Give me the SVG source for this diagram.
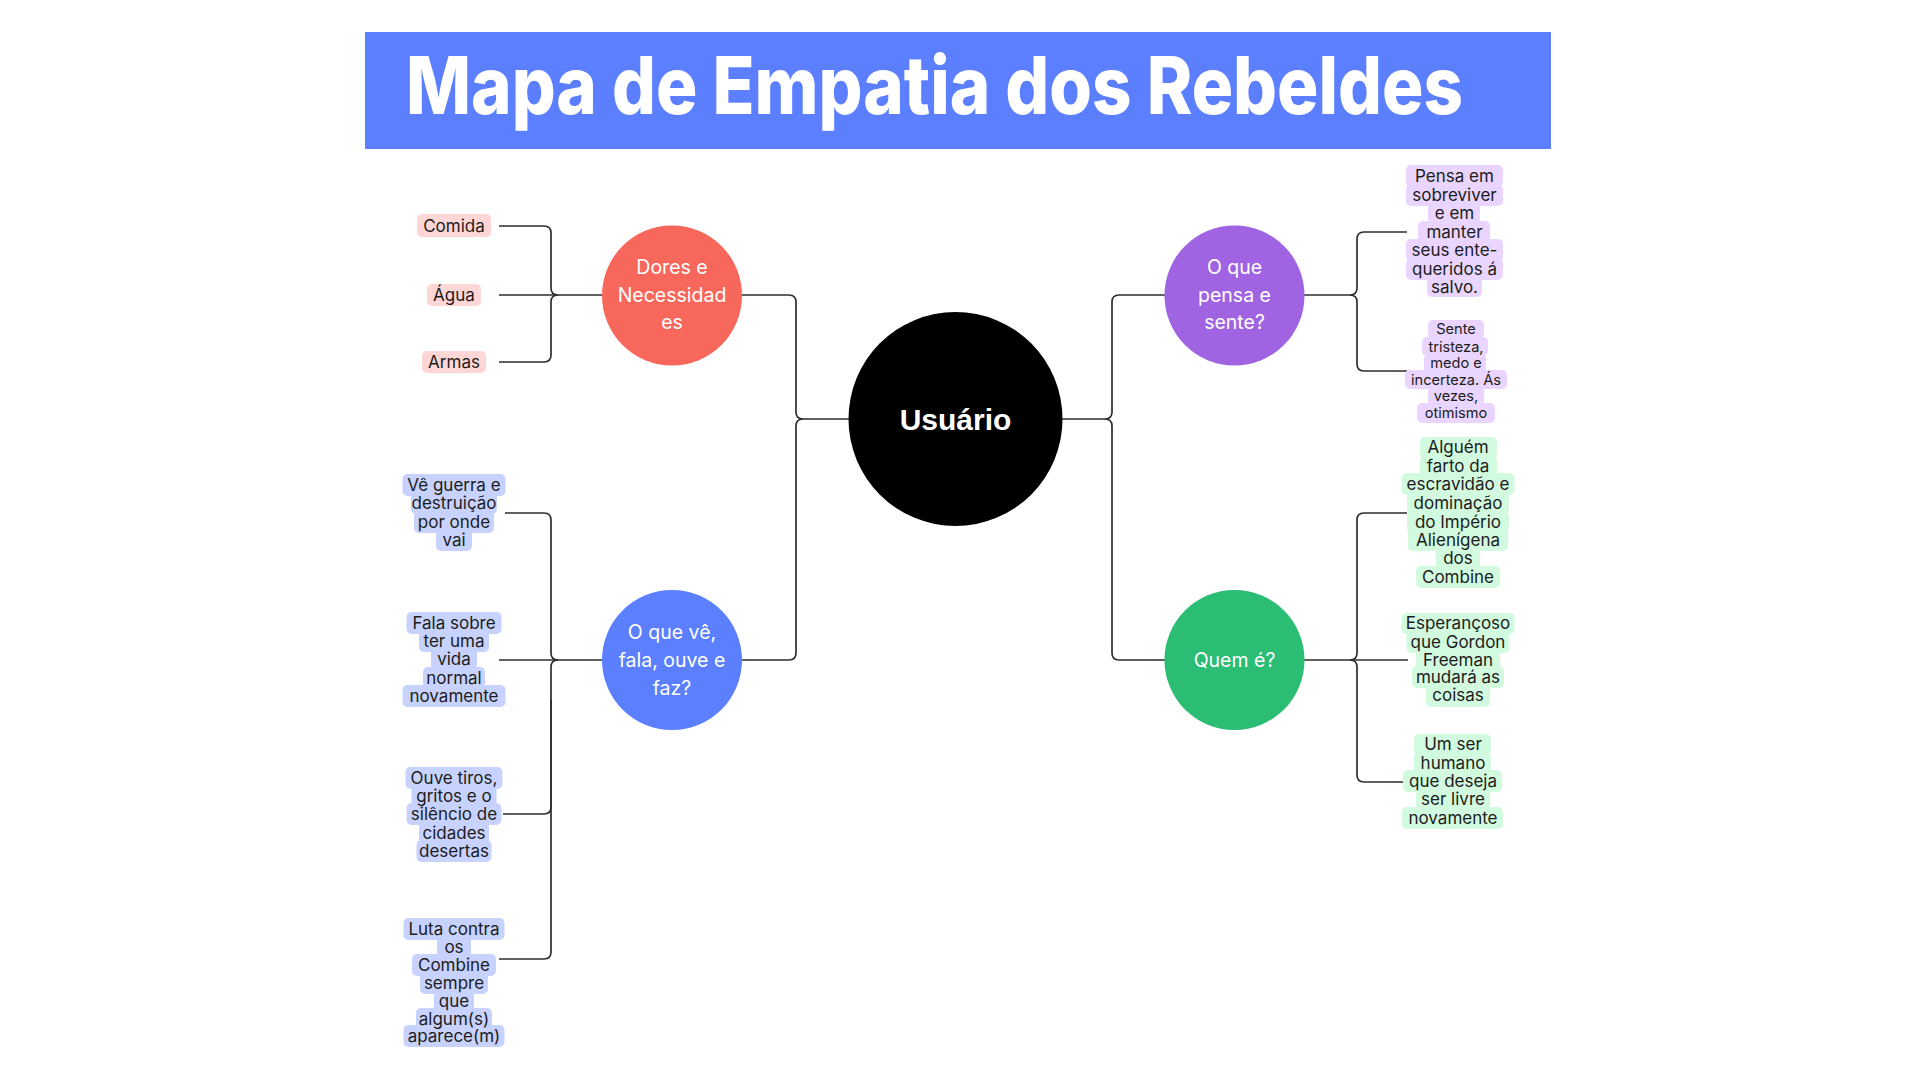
<svg xmlns="http://www.w3.org/2000/svg" width="1920" height="1080" viewBox="0 0 1920 1080">
<style>
.conn{fill:none;stroke:#2e2e2e;stroke-width:1.7}
.ct{font-family:Inter,"Noto Sans",sans-serif;font-size:19.5px;fill:#fff;text-anchor:middle;dominant-baseline:central}
.lt{font-family:Inter,"Noto Sans",sans-serif;font-size:17px;fill:#1c1c1c;text-anchor:middle;dominant-baseline:central}
.ls{font-family:Inter,"Noto Sans",sans-serif;font-size:14.6px;fill:#1c1c1c;text-anchor:middle;dominant-baseline:central}
.pk{fill:#FFD6D6}.bl{fill:#C7D2FE}.pu{fill:#E9D5FF}.gr{fill:#D2FADF}
</style>
<rect width="1920" height="1080" fill="#fff"/>
<g id="title">
<rect x="365" y="32" width="1186" height="117" fill="#5B7FFF"/>
<text x="406" y="114" font-family="Inter,'Open Sans',sans-serif" font-weight="800" font-size="80" fill="#fff" textLength="1057" lengthAdjust="spacingAndGlyphs">Mapa de Empatia dos Rebeldes</text>
</g>
<g id="connectors">
<path class="conn" d="M742 295H789Q796 295 796 302V412Q796 419 803 419H849"/>
<path class="conn" d="M742 660H789Q796 660 796 653V426Q796 419 803 419"/>
<path class="conn" d="M1165 295H1119Q1112 295 1112 302V412Q1112 419 1105 419H1062"/>
<path class="conn" d="M1165 660H1119Q1112 660 1112 653V426Q1112 419 1105 419"/>
<path class="conn" d="M499 226H544Q551 226 551 233V288Q551 295 558 295H602"/>
<path class="conn" d="M499 362H544Q551 362 551 355V302Q551 295 558 295"/>
<path class="conn" d="M499 295H558"/>
<path class="conn" d="M505 513H544Q551 513 551 520V653Q551 660 558 660H602"/>
<path class="conn" d="M499 959H544Q551 959 551 952V667Q551 660 558 660"/>
<path class="conn" d="M499 660H558"/>
<path class="conn" d="M503 814H544Q551 814 551 807V700"/>
<path class="conn" d="M1407 232H1364Q1357 232 1357 239V288Q1357 295 1350 295H1304"/>
<path class="conn" d="M1407 371H1364Q1357 371 1357 364V302Q1357 295 1350 295"/>
<path class="conn" d="M1407 513H1364Q1357 513 1357 520V653Q1357 660 1350 660H1304"/>
<path class="conn" d="M1405 782H1364Q1357 782 1357 775V667Q1357 660 1350 660"/>
<path class="conn" d="M1408 660H1350"/>
</g>
<g id="usuario">
<circle cx="955.5" cy="419" r="107" fill="#000"/>
<text x="955.5" y="419" font-family="'Liberation Sans',Arial,sans-serif" font-weight="bold" font-size="30" fill="#fff" text-anchor="middle" dominant-baseline="central">Usuário</text>
</g>
<g id="dores">
<circle cx="672" cy="295.5" r="70" fill="#F8675B"/>
<text class="ct" x="672" y="267">Dores e</text>
<text class="ct" x="672" y="295">Necessidad</text>
<text class="ct" x="672" y="322">es</text>
</g>
<g id="oquefaz">
<circle cx="672" cy="660" r="70" fill="#5B7FFF"/>
<text class="ct" x="672" y="632">O que vê,</text>
<text class="ct" x="672" y="660">fala, ouve e</text>
<text class="ct" x="672" y="688">faz?</text>
</g>
<g id="oquepensa">
<circle cx="1234.5" cy="295.5" r="70" fill="#A064E2"/>
<text class="ct" x="1234.5" y="267">O que</text>
<text class="ct" x="1234.5" y="295">pensa e</text>
<text class="ct" x="1234.5" y="322">sente?</text>
</g>
<g id="quem">
<circle cx="1234.5" cy="660" r="70" fill="#2BBD74"/>
<text class="ct" x="1234.5" y="660">Quem é?</text>
</g>
<g id="comida">
<rect class="pk" x="417" y="214" width="74" height="23" rx="5"/>
<text class="lt" x="454" y="225.5" font-size="18">Comida</text>
</g>
<g id="agua">
<rect class="pk" x="427" y="284" width="54" height="22" rx="5"/>
<text class="lt" x="454" y="295" font-size="18">Água</text>
</g>
<g id="armas">
<rect class="pk" x="422" y="351" width="64" height="22" rx="5"/>
<text class="lt" x="454" y="362" font-size="18">Armas</text>
</g>
<g id="ve">
<rect class="bl" x="402.5" y="474" width="103" height="22" rx="5"/>
<rect class="bl" x="411" y="492" width="86" height="22" rx="5"/>
<rect class="bl" x="414" y="511" width="80" height="22" rx="5"/>
<rect class="bl" x="436" y="529" width="36" height="22" rx="5"/>
<text class="lt" x="454" y="485">Vê guerra e</text>
<text class="lt" x="454" y="503">destruição</text>
<text class="lt" x="454" y="522">por onde</text>
<text class="lt" x="454" y="540">vai</text>
</g>
<g id="fala">
<rect class="bl" x="406.5" y="612" width="95" height="22" rx="5"/>
<rect class="bl" x="419" y="630" width="70" height="22" rx="5"/>
<rect class="bl" x="431" y="648" width="46" height="22" rx="5"/>
<rect class="bl" x="423" y="667" width="62" height="22" rx="5"/>
<rect class="bl" x="402.5" y="685" width="103" height="22" rx="5"/>
<text class="lt" x="454" y="623">Fala sobre</text>
<text class="lt" x="454" y="641">ter uma</text>
<text class="lt" x="454" y="659">vida</text>
<text class="lt" x="454" y="678">normal</text>
<text class="lt" x="454" y="696">novamente</text>
</g>
<g id="ouve">
<rect class="bl" x="405.5" y="767" width="97" height="22" rx="5"/>
<rect class="bl" x="411.5" y="785" width="85" height="22" rx="5"/>
<rect class="bl" x="406.5" y="803" width="95" height="22" rx="5"/>
<rect class="bl" x="419" y="822" width="70" height="22" rx="5"/>
<rect class="bl" x="416.5" y="840" width="75" height="22" rx="5"/>
<text class="lt" x="454" y="778">Ouve tiros,</text>
<text class="lt" x="454" y="796">gritos e o</text>
<text class="lt" x="454" y="814">silêncio de</text>
<text class="lt" x="454" y="833">cidades</text>
<text class="lt" x="454" y="851">desertas</text>
</g>
<g id="luta">
<rect class="bl" x="403.5" y="918" width="101" height="22" rx="5"/>
<rect class="bl" x="437" y="936" width="34" height="22" rx="5"/>
<rect class="bl" x="412" y="954" width="84" height="22" rx="5"/>
<rect class="bl" x="420" y="972" width="68" height="22" rx="5"/>
<rect class="bl" x="434" y="990" width="40" height="22" rx="5"/>
<rect class="bl" x="416" y="1008" width="76" height="22" rx="5"/>
<rect class="bl" x="403.5" y="1025" width="101" height="22" rx="5"/>
<text class="lt" x="454" y="929">Luta contra</text>
<text class="lt" x="454" y="947">os</text>
<text class="lt" x="454" y="965">Combine</text>
<text class="lt" x="454" y="983">sempre</text>
<text class="lt" x="454" y="1001">que</text>
<text class="lt" x="454" y="1019">algum(s)</text>
<text class="lt" x="454" y="1036">aparece(m)</text>
</g>
<g id="pensa">
<rect class="pu" x="1406" y="165" width="97" height="22" rx="5"/>
<rect class="pu" x="1406" y="184" width="97" height="22" rx="5"/>
<rect class="pu" x="1428" y="202" width="52" height="22" rx="5"/>
<rect class="pu" x="1418" y="221" width="72" height="22" rx="5"/>
<rect class="pu" x="1406" y="239" width="97" height="22" rx="5"/>
<rect class="pu" x="1406" y="258" width="97" height="22" rx="5"/>
<rect class="pu" x="1427" y="276" width="55" height="21" rx="5"/>
<text class="lt" x="1454.5" y="176">Pensa em</text>
<text class="lt" x="1454.5" y="195">sobreviver</text>
<text class="lt" x="1454.5" y="213">e em</text>
<text class="lt" x="1454.5" y="232">manter</text>
<text class="lt" x="1454.5" y="250">seus ente-</text>
<text class="lt" x="1454.5" y="269">queridos á</text>
<text class="lt" x="1454.5" y="287">salvo.</text>
</g>
<g id="sente">
<rect class="pu" x="1428" y="320" width="56" height="19" rx="5"/>
<rect class="pu" x="1422" y="337" width="66" height="19" rx="5"/>
<rect class="pu" x="1424" y="354" width="62" height="19" rx="5"/>
<rect class="pu" x="1405" y="370" width="102" height="19" rx="5"/>
<rect class="pu" x="1428" y="387" width="56" height="19" rx="5"/>
<rect class="pu" x="1417" y="403" width="78" height="20" rx="5"/>
<text class="ls" x="1456" y="329">Sente</text>
<text class="ls" x="1456" y="347">tristeza,</text>
<text class="ls" x="1456" y="363">medo e</text>
<text class="ls" x="1456" y="380">incerteza. Ás</text>
<text class="ls" x="1456" y="396">vezes,</text>
<text class="ls" x="1456" y="413">otimismo</text>
</g>
<g id="alguem">
<rect class="gr" x="1420" y="437" width="77" height="21" rx="5"/>
<rect class="gr" x="1420" y="455" width="77" height="22" rx="5"/>
<rect class="gr" x="1401.5" y="473" width="113" height="22" rx="5"/>
<rect class="gr" x="1407" y="492" width="102" height="22" rx="5"/>
<rect class="gr" x="1407" y="511" width="102" height="22" rx="5"/>
<rect class="gr" x="1408" y="529" width="100" height="22" rx="5"/>
<rect class="gr" x="1436" y="547" width="44" height="22" rx="5"/>
<rect class="gr" x="1416" y="566" width="84" height="22" rx="5"/>
<text class="lt" x="1458" y="447">Alguém</text>
<text class="lt" x="1458" y="466">farto da</text>
<text class="lt" x="1458" y="484">escravidão e</text>
<text class="lt" x="1458" y="503">dominação</text>
<text class="lt" x="1458" y="522">do Império</text>
<text class="lt" x="1458" y="540">Alienígena</text>
<text class="lt" x="1458" y="558">dos</text>
<text class="lt" x="1458" y="577">Combine</text>
</g>
<g id="esperancoso">
<rect class="gr" x="1401.5" y="613" width="113" height="21" rx="5"/>
<rect class="gr" x="1406.5" y="631" width="103" height="22" rx="5"/>
<rect class="gr" x="1416" y="649" width="84" height="22" rx="5"/>
<rect class="gr" x="1412" y="666" width="92" height="22" rx="5"/>
<rect class="gr" x="1426" y="684" width="64" height="23" rx="5"/>
<text class="lt" x="1458" y="623">Esperançoso</text>
<text class="lt" x="1458" y="642">que Gordon</text>
<text class="lt" x="1458" y="660">Freeman</text>
<text class="lt" x="1458" y="677">mudará as</text>
<text class="lt" x="1458" y="695">coisas</text>
</g>
<g id="umser">
<rect class="gr" x="1414" y="734" width="77" height="21" rx="5"/>
<rect class="gr" x="1414" y="752" width="77" height="22" rx="5"/>
<rect class="gr" x="1403" y="770" width="99" height="22" rx="5"/>
<rect class="gr" x="1416" y="788" width="74" height="22" rx="5"/>
<rect class="gr" x="1402" y="807" width="101" height="22" rx="5"/>
<text class="lt" x="1453" y="744">Um ser</text>
<text class="lt" x="1453" y="763">humano</text>
<text class="lt" x="1453" y="781">que deseja</text>
<text class="lt" x="1453" y="799">ser livre</text>
<text class="lt" x="1453" y="818">novamente</text>
</g>
</svg>
